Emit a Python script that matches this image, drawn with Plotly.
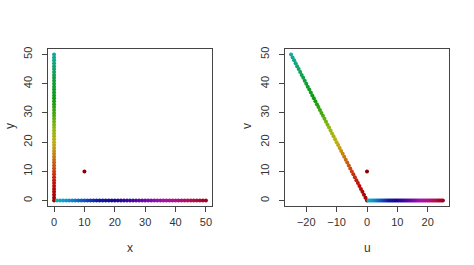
import plotly.graph_objects as go

# Left panel data: points on the y axis (x=0, y=0..50) then on the x axis (x=1..50, y=0)
x_vals = [0]*51 + list(range(1, 51))
y_vals = list(range(0, 51)) + [0]*50
# Right panel data: u = transformed coordinate, v
u_vals = [0, -0.5, -1, -1.5, -2, -2.5, -3, -3.5, -4, -4.5, -5, -5.5, -6, -6.5, -7, -7.5,
          -8, -8.5, -9, -9.5, -10, -10.5, -11, -11.5, -12, -12.5, -13, -13.5, -14, -14.5,
          -15, -15.5, -16, -16.5, -17, -17.5, -18, -18.5, -19, -19.5, -20, -20.5, -21, -21.5,
          -22, -22.5, -23, -23.5, -24, -24.5, -25,
          0.5, 1, 1.5, 2, 2.5, 3, 3.5, 4, 4.5, 5, 5.5, 6, 6.5, 7, 7.5, 8, 8.5, 9, 9.5, 10,
          10.5, 11, 11.5, 12, 12.5, 13, 13.5, 14, 14.5, 15, 15.5, 16, 16.5, 17, 17.5, 18,
          18.5, 19, 19.5, 20, 20.5, 21, 21.5, 22, 22.5, 23, 23.5, 24, 24.5, 25]
v_vals = list(range(0, 51)) + [0]*50
order = list(range(101))

# extra point
px, py = [10], [10]
pu, pv = [0], [10]

x_ticks = [0, 10, 20, 30, 40, 50]
y_ticks = [0, 10, 20, 30, 40, 50]
u_ticks = [-20, -10, 0, 10, 20]

cscale = [
    [0.0, "#990000"], [0.05, "#c00808"], [0.1, "#c83c10"], [0.15, "#c87810"],
    [0.2, "#c0b010"], [0.25, "#90b810"], [0.3, "#40a810"], [0.35, "#109c10"],
    [0.42, "#10a040"], [0.5, "#10a8a0"], [0.51, "#10b0c0"], [0.55, "#1090c8"],
    [0.6, "#1050c0"], [0.65, "#1018a0"], [0.7, "#180890"], [0.75, "#4008a0"],
    [0.8, "#7008a8"], [0.85, "#a010b0"], [0.9, "#b01090"], [0.95, "#b01050"],
    [1.0, "#a00020"],
]

fig = go.Figure()
mk = dict(size=4, color=order, colorscale=cscale, cmin=0, cmax=100, line=dict(width=0))
fig.add_trace(go.Scatter(x=x_vals, y=y_vals, mode="markers", marker=mk, xaxis="x", yaxis="y", showlegend=False))
fig.add_trace(go.Scatter(x=px, y=py, mode="markers", marker=dict(size=4, color="#8b0000"), xaxis="x", yaxis="y", showlegend=False))
fig.add_trace(go.Scatter(x=u_vals, y=v_vals, mode="markers", marker=mk, xaxis="x2", yaxis="y2", showlegend=False))
fig.add_trace(go.Scatter(x=pu, y=pv, mode="markers", marker=dict(size=4, color="#8b0000"), xaxis="x2", yaxis="y2", showlegend=False))

W, H = 474, 265
ax_common = dict(showgrid=False, zeroline=False, showline=True, mirror=True, linecolor="#444",
                 linewidth=1, ticks="outside", ticklen=5, tickcolor="#444",
                 tickfont=dict(family="Liberation Sans, Arial", size=11, color="#333"))
ydom = [1 - 206/H, 1 - 47/H]
tfont = dict(family="Liberation Sans, Arial", size=12, color="#333")
fig.update_layout(
    width=W, height=H, margin=dict(l=0, r=0, t=0, b=0),
    paper_bgcolor="white", plot_bgcolor="white",
    xaxis=dict(domain=[48/W, 212/W], range=[-2, 52], tickvals=x_ticks, anchor="y", **ax_common),
    yaxis=dict(domain=ydom, range=[-2, 52], tickvals=y_ticks, tickangle=-90, anchor="x",
               ticklabelstandoff=6, **ax_common),
    xaxis2=dict(domain=[285/W, 449/W], range=[-27, 27], tickvals=u_ticks, anchor="y2", **ax_common),
    yaxis2=dict(domain=ydom, range=[-2, 52], tickvals=y_ticks, tickangle=-90, anchor="x2",
                ticklabelstandoff=6, **ax_common),
    annotations=[
        dict(text="x", x=130/W, y=1 - 248/H, xref="paper", yref="paper", showarrow=False,
             xanchor="center", yanchor="middle", font=tfont),
        dict(text="y", x=10/W, y=1 - 125/H, xref="paper", yref="paper", showarrow=False, textangle=-90,
             xanchor="center", yanchor="middle", font=tfont),
        dict(text="u", x=367/W, y=1 - 248/H, xref="paper", yref="paper", showarrow=False,
             xanchor="center", yanchor="middle", font=tfont),
        dict(text="v", x=247/W, y=1 - 125/H, xref="paper", yref="paper", showarrow=False, textangle=-90,
             xanchor="center", yanchor="middle", font=tfont),
    ],
)
fig.write_html("out.html")
